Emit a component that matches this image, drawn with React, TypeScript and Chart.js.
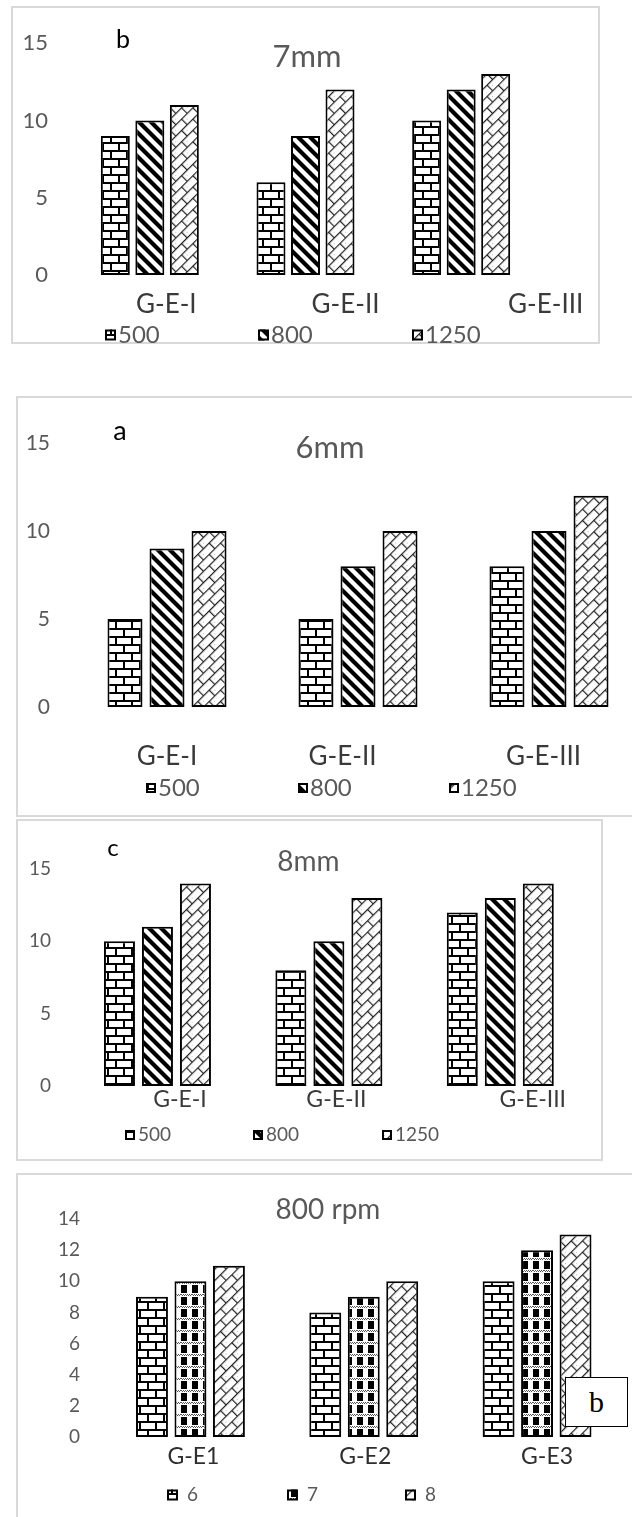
import React, { useEffect, useRef } from 'react';
import { Chart, registerables } from 'chart.js';

Chart.register(...registerables);

// ---------- data ----------
const GROUPS_ROMAN = ['G-E-I', 'G-E-II', 'G-E-III'];
const GROUPS_NUM = ['G-E1', 'G-E2', 'G-E3'];
const SPEED_LABELS = ['500', '800', '1250'];
const DIAMETER_LABELS = ['6', '7', '8'];

// 7 mm panel (b)
const MM7_500 = [9, 6, 10];
const MM7_800 = [10, 9, 12];
const MM7_1250 = [11, 12, 13];
// 6 mm panel (a)
const MM6_500 = [5, 5, 8];
const MM6_800 = [9, 8, 10];
const MM6_1250 = [10, 10, 12];
// 8 mm panel (c)
const MM8_500 = [10, 8, 12];
const MM8_800 = [11, 10, 13];
const MM8_1250 = [14, 13, 14];
// 800 rpm panel
const RPM800_6 = [9, 8, 10];
const RPM800_7 = [10, 9, 12];
const RPM800_8 = [11, 10, 13];

const Y_MAX_MM = 15;
const Y_STEP_MM = 5;
const Y_MAX_RPM = 14;
const Y_STEP_RPM = 2;

const FONT = 'Lato, "Open Sans", sans-serif';

type Rect = { left: number; top: number; width: number; height: number };
type Panel = {
  key: string;
  labels: string[];
  names: string[];
  series: number[][];
  yMax: number;
  yStep: number;
  box: Rect;
  area: { left: number; right: number; top: number; bottom: number };
  tickRight: number;
  tickFont: number;
  catPct: number;
  barPct: number;
  title: { text: string; x: number; y: number; size: number };
  letter?: { text: string; x: number; y: number; size: number };
  catDx: number[];
  catY: number;
  catFont: number;
  catColor: string;
  legendX: number[];
  legendY: number;
  legendFont: number;
  legendBox: number;
  legendGap: number;
  patterns: string[];
};

const PANELS: Panel[] = [
  {
    key: 'p7',
    labels: GROUPS_ROMAN,
    names: SPEED_LABELS,
    series: [MM7_500, MM7_800, MM7_1250],
    yMax: Y_MAX_MM,
    yStep: Y_STEP_MM,
    box: { left: 11, top: 6, width: 589, height: 338 },
    area: { left: 72, right: 539, top: 43, bottom: 275 },
    tickRight: 48,
    tickFont: 22,
    catPct: 0.665,
    barPct: 0.84,
    title: { text: '7mm', x: 307, y: 57, size: 31 },
    letter: { text: 'b', x: 123, y: 40, size: 25 },
    catDx: [16.5, 40, 84.5],
    catY: 305,
    catFont: 26,
    catColor: '#3a3a3a',
    legendX: [105, 258, 412],
    legendY: 335,
    legendFont: 24,
    legendBox: 11,
    legendGap: 2,
    patterns: ['brick', 'stripe', 'dbrick'],
  },
  {
    key: 'p6',
    labels: GROUPS_ROMAN,
    names: SPEED_LABELS,
    series: [MM6_500, MM6_800, MM6_1250],
    yMax: Y_MAX_MM,
    yStep: Y_STEP_MM,
    box: { left: 16, top: 396, width: 644, height: 421 },
    area: { left: 71.5, right: 644.5, top: 443, bottom: 707 },
    tickRight: 50,
    tickFont: 21,
    catPct: 0.66,
    barPct: 0.833,
    title: { text: '6mm', x: 330, y: 448, size: 31 },
    letter: { text: 'a', x: 120, y: 431, size: 27 },
    catDx: [0, -15.5, -5.5],
    catY: 757,
    catFont: 26,
    catColor: '#3a3a3a',
    legendX: [146, 298, 449],
    legendY: 788,
    legendFont: 24,
    legendBox: 10,
    legendGap: 2,
    patterns: ['brick', 'stripe', 'dbrick'],
  },
  {
    key: 'p8',
    labels: GROUPS_ROMAN,
    names: SPEED_LABELS,
    series: [MM8_500, MM8_800, MM8_1250],
    yMax: Y_MAX_MM,
    yStep: Y_STEP_MM,
    box: { left: 16, top: 819, width: 587, height: 342 },
    area: { left: 71.75, right: 586, top: 869, bottom: 1086 },
    tickRight: 51,
    tickFont: 19,
    catPct: 0.665,
    barPct: 0.816,
    title: { text: '8mm', x: 308.5, y: 862, size: 28 },
    letter: { text: 'c', x: 113, y: 848, size: 24 },
    catDx: [22.5, 7.5, 32.5],
    catY: 1100,
    catFont: 23,
    catColor: '#3a3a3a',
    legendX: [125, 253, 382],
    legendY: 1135,
    legendFont: 19,
    legendBox: 10,
    legendGap: 3,
    patterns: ['brick', 'stripe', 'dbrick'],
  },
  {
    key: 'p800',
    labels: GROUPS_NUM,
    names: DIAMETER_LABELS,
    series: [RPM800_6, RPM800_7, RPM800_8],
    yMax: Y_MAX_RPM,
    yStep: Y_STEP_RPM,
    box: { left: 16, top: 1173, width: 644, height: 367 },
    area: { left: 103.8, right: 623.7, top: 1219, bottom: 1437 },
    tickRight: 80,
    tickFont: 19,
    catPct: 0.666,
    barPct: 0.83,
    title: { text: '800 rpm', x: 328, y: 1210, size: 28 },
    catDx: [3, 1.5, 10],
    catY: 1457,
    catFont: 23,
    catColor: '#2e2e2e',
    legendX: [167, 287, 405],
    legendY: 1495,
    legendFont: 19,
    legendBox: 11,
    legendGap: 9,
    patterns: ['brick', 'check', 'dbrick'],
  },
];

// ---------- patterns ----------
function makePattern(ctx: CanvasRenderingContext2D, kind: string): CanvasPattern {
  const c = document.createElement('canvas');
  const g = c.getContext('2d')!;
  if (kind === 'brick') {
    c.width = 16;
    c.height = 16;
    g.fillStyle = '#fff';
    g.fillRect(0, 0, 16, 16);
    g.fillStyle = '#000';
    g.fillRect(0, 0, 16, 2);
    g.fillRect(0, 8, 16, 2);
    g.fillRect(3, 2, 2, 6);
    g.fillRect(11, 10, 2, 6);
    return ctx.createPattern(c, 'repeat')!;
  }
  if (kind === 'stripe') {
    const s = 12;
    c.width = s;
    c.height = s;
    g.fillStyle = '#fff';
    g.fillRect(0, 0, s, s);
    g.strokeStyle = '#000';
    g.lineWidth = 4.2;
    g.beginPath();
    for (const x0 of [-s, 0, s]) {
      g.moveTo(x0 - 2, -2);
      g.lineTo(x0 + s + 2, s + 2);
    }
    g.stroke();
    return ctx.createPattern(c, 'repeat')!;
  }
  if (kind === 'dbrick') {
    const s = 16;
    c.width = s;
    c.height = s;
    g.fillStyle = '#fff';
    g.fillRect(0, 0, s, s);
    g.fillStyle = '#222';
    g.fillRect(0, 0, s, 1.2);
    g.fillRect(0, 8, s, 1.2);
    g.fillRect(0, 0, 1.2, 8);
    g.fillRect(8, 8, 1.2, 8);
    g.fillStyle = '#bbb';
    g.fillRect(4, 4, 1, 1);
    g.fillRect(12, 12, 1, 1);
    const p = ctx.createPattern(c, 'repeat')!;
    p.setTransform(new DOMMatrix().rotate(-45));
    return p;
  }
  // check (7 mm in rpm panel)
  c.width = 11;
  c.height = 12;
  g.fillStyle = '#fff';
  g.fillRect(0, 0, 11, 12);
  g.fillStyle = '#000';
  g.fillRect(0, 4, 6, 8);
  g.fillStyle = '#555';
  for (let x = 0; x < 11; x += 2) {
    g.fillRect(x, 1, 1, 1);
    g.fillRect(x + 1, 2, 1, 1);
  }
  return ctx.createPattern(c, 'repeat')!;
}

// ---------- chart ----------
function PanelChart({ p }: { p: Panel }) {
  const ref = useRef<HTMLCanvasElement>(null);

  useEffect(() => {
    const canvas = ref.current!;
    const ctx = canvas.getContext('2d')!;
    const pats = p.patterns.map((k) => makePattern(ctx, k));
    const ox = p.box.left;
    const oy = p.box.top;

    const overlay = {
      id: 'overlay_' + p.key,
      afterDraw(chart: any) {
        const c = chart.ctx as CanvasRenderingContext2D;
        const xs = chart.scales.x;
        c.save();
        c.textBaseline = 'middle';
        // title
        c.font = `${p.title.size}px ${FONT}`;
        c.fillStyle = '#595959';
        c.textAlign = 'center';
        c.fillText(p.title.text, p.title.x - ox, p.title.y - oy);
        // panel letter
        if (p.letter) {
          c.font = `${p.letter.size}px ${FONT}`;
          c.fillStyle = '#000';
          c.fillText(p.letter.text, p.letter.x - ox, p.letter.y - oy);
        }
        // category labels
        c.font = `${p.catFont}px ${FONT}`;
        c.fillStyle = p.catColor;
        chart.data.labels.forEach((lab: string, i: number) => {
          c.fillText(lab, xs.getPixelForValue(i) + p.catDx[i], p.catY - oy);
        });
        // legend
        c.font = `${p.legendFont}px ${FONT}`;
        c.textAlign = 'left';
        chart.data.datasets.forEach((ds: any, i: number) => {
          const lx = p.legendX[i] - ox;
          const ly = p.legendY - oy;
          const b = p.legendBox;
          c.fillStyle = ds.backgroundColor;
          c.fillRect(lx, ly - b / 2, b, b);
          c.strokeStyle = '#000';
          c.lineWidth = 2;
          c.strokeRect(lx + 1, ly - b / 2 + 1, b - 2, b - 2);
          c.fillStyle = '#595959';
          c.fillText(ds.label, lx + b + p.legendGap, ly);
        });
        c.restore();
      },
    };

    const yWidth = p.area.left - p.box.left;
    const chart = new Chart(canvas, {
      type: 'bar',
      data: {
        labels: p.labels,
        datasets: p.series.map((vals, i) => ({
          label: p.names[i],
          data: vals,
          backgroundColor: pats[i] as any,
          borderColor: '#000',
          borderWidth: 2,
          borderSkipped: false,
          categoryPercentage: p.catPct,
          barPercentage: p.barPct,
        })),
      },
      options: {
        animation: false,
        responsive: false,
        maintainAspectRatio: false,
        layout: {
          padding: {
            left: 0,
            right: p.box.left + p.box.width - p.area.right,
            top: p.area.top - p.box.top,
            bottom: p.box.top + p.box.height - p.area.bottom,
          },
        },
        plugins: {
          legend: { display: false },
          title: { display: false },
          tooltip: { enabled: false },
        },
        scales: {
          x: { display: false },
          y: {
            min: 0,
            max: p.yMax,
            ticks: {
              stepSize: p.yStep,
              color: '#595959',
              font: { family: FONT, size: p.tickFont },
              padding: p.area.left - p.tickRight,
            },
            grid: { display: false, drawTicks: false },
            border: { display: false },
            afterFit: (scale: any) => {
              scale.width = yWidth;
            },
          },
        },
      } as any,
      plugins: [overlay],
    });
    return () => chart.destroy();
  }, [p]);

  return (
    <canvas
      ref={ref}
      width={p.box.width}
      height={p.box.height}
      style={{
        position: 'absolute',
        left: p.box.left,
        top: p.box.top,
        width: p.box.width,
        height: p.box.height,
      }}
    />
  );
}

export default function App() {
  return (
    <div
      style={{
        position: 'absolute',
        left: 0,
        top: 0,
        width: 632,
        height: 1517,
        overflow: 'hidden',
        background: '#fff',
      }}
    >
      {PANELS.map((p) => (
        <React.Fragment key={p.key}>
          <div
            style={{
              position: 'absolute',
              left: p.box.left,
              top: p.box.top,
              width: p.box.width,
              height: p.box.height,
              boxSizing: 'border-box',
              border: '2px solid #d9d9d9',
            }}
          />
          <PanelChart p={p} />
        </React.Fragment>
      ))}
      <div
        style={{
          position: 'absolute',
          left: 565,
          top: 1377,
          width: 63,
          height: 50,
          boxSizing: 'border-box',
          border: '1px solid #000',
          background: '#fff',
          display: 'flex',
          alignItems: 'center',
          justifyContent: 'center',
          fontFamily: '"Liberation Serif", "Times New Roman", serif',
          fontSize: 30,
          color: '#000',
        }}
      >
        b
      </div>
    </div>
  );
}
